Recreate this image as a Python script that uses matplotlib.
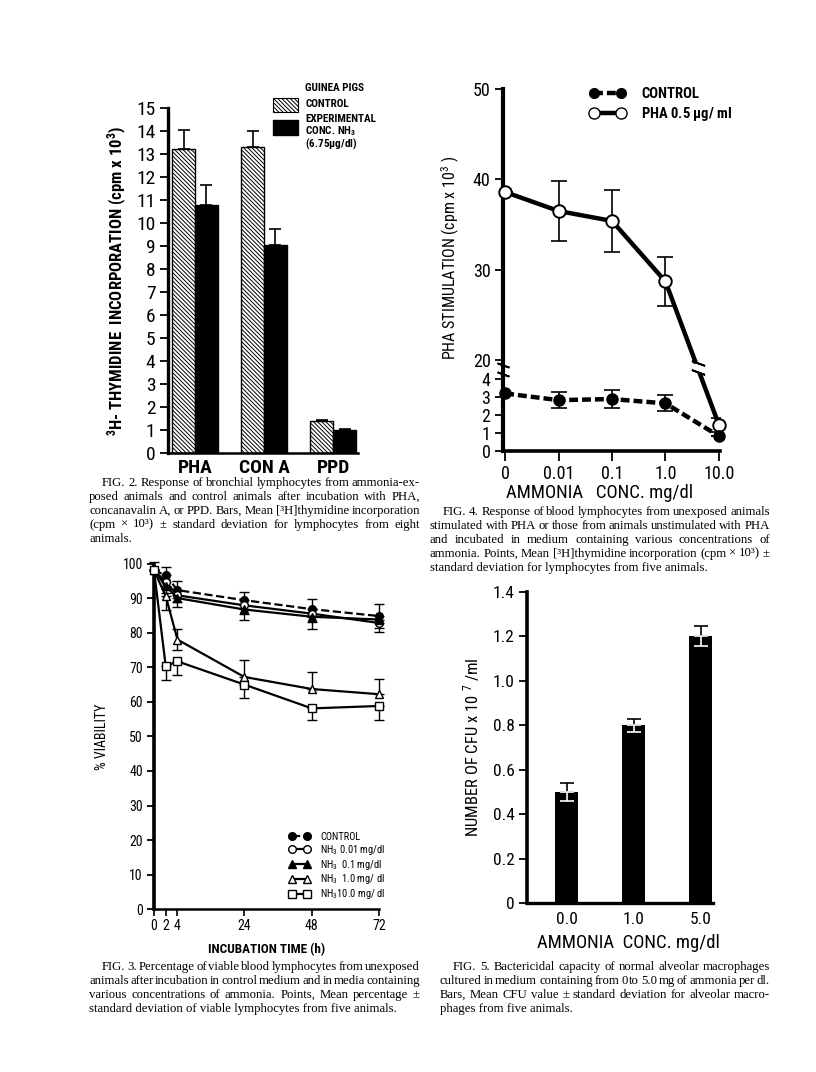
import os
import numpy as np
import matplotlib
matplotlib.use("Agg")
import matplotlib.pyplot as plt
import matplotlib.font_manager as fm
from matplotlib.lines import Line2D
from matplotlib.patches import Rectangle
from matplotlib import transforms

plt.rcParams["mathtext.default"] = "regular"
plt.rcParams["hatch.linewidth"] = 0.7

SERIF = ["Liberation Serif", "DejaVu Serif"]
W, H = 816, 1072

# ---- Fig 2 data
fig2_groups = ["PHA", "CON A", "PPD"]
fig2_control = [13.2, 13.3, 1.4]
fig2_control_sd = [0.85, 0.7, 0.05]
fig2_exp = [10.8, 9.05, 1.0]
fig2_exp_sd = [0.85, 0.7, 0.05]

# ---- Fig 4 data
fig4_conc = ["0", "0.01", "0.1", "1.0", "10.0"]
fig4_control = [3.2, 2.83, 2.89, 2.65, 0.83]
fig4_control_sd = [0.0, 0.45, 0.5, 0.45, 0.0]
fig4_pha = [38.6, 36.5, 35.4, 28.7, 1.45]
fig4_pha_sd = [0.0, 3.3, 3.4, 2.7, 0.4]

# ---- Fig 3 data
fig3_time = [0, 2, 4, 24, 48, 72]
fig3_control = [98.0, 96.6, 92.3, 89.4, 86.8, 84.8]
fig3_control_up = [2.5, 2.5, 2.5, 2.5, 3.0, 3.5]
fig3_nh3_001 = [98.0, 94.7, 90.8, 87.9, 85.5, 82.8]
fig3_nh3_001_dn = [0.0, 2.0, 2.0, 2.5, 2.5, 2.5]
fig3_nh3_01 = [98.0, 93.5, 90.0, 86.7, 84.6, 83.8]
fig3_nh3_01_dn = [0.0, 2.0, 2.5, 3.0, 3.5, 2.5]
fig3_nh3_10 = [98.0, 90.6, 78.0, 67.2, 63.7, 62.2]
fig3_nh3_10_up = [0.0, 0.0, 3.0, 5.0, 5.0, 4.3]
fig3_nh3_10_dn = [0.0, 4.0, 3.0, 0.0, 0.0, 0.0]
fig3_nh3_100 = [98.0, 70.3, 71.7, 65.0, 58.1, 58.8]
fig3_nh3_100_dn = [0.0, 4.0, 4.0, 4.0, 3.5, 4.0]

# ---- Fig 5 data
fig5_conc = ["0.0", "1.0", "5.0"]
fig5_cfu = [0.5, 0.8, 1.2]
fig5_sd = [0.04, 0.03, 0.045]


# pick a condensed sans if one is installed, else plain Liberation Sans a bit smaller
def find_condensed(bold):
    prefs = ["liberation sans narrow", "roboto condensed", "open sans condensed",
             "noto sans condensed", "dejavu sans condensed", "noto sans", "open sans",
             "roboto", "dejavu sans", "lato", "inter"]
    best, best_rank = None, 99
    for f in fm.fontManager.ttflist:
        nm = f.name.lower()
        fn = os.path.basename(f.fname).lower()
        cond = ("narrow" in nm or "condensed" in nm or "condensed" in fn
                or "narrow" in fn or str(f.stretch) in ("condensed", "semi-condensed"))
        if not cond or f.style != "normal" or "extra" in fn or "semi" in fn:
            continue
        w = f.weight if isinstance(f.weight, int) else fm.weight_dict.get(f.weight, 400)
        if (w >= 600) != bold or w > 750 or (not bold and w < 350):
            continue
        rank = next((i for i, p in enumerate(prefs) if nm.startswith(p)), 50)
        if rank < best_rank:
            best, best_rank = f.fname, rank
    return best


REG_PATH = find_condensed(False)
BOLD_PATH = find_condensed(True) or REG_PATH
SCALE = 1.0 if REG_PATH else 0.84


def fp(size, bold=False):
    if REG_PATH:
        return fm.FontProperties(fname=BOLD_PATH if bold else REG_PATH, size=size)
    return fm.FontProperties(family=["Liberation Sans", "DejaVu Sans"],
                             weight="bold" if bold else "normal", size=size * SCALE)


fig = plt.figure(figsize=(W / 100, H / 100), dpi=100)


def axbox(left, right, top, bottom):
    return [left / W, 1 - bottom / H, (right - left) / W, (bottom - top) / H]


def style(ax, lw_left, lw_bottom):
    for s in ["top", "right"]:
        ax.spines[s].set_visible(False)
    ax.spines["left"].set_linewidth(lw_left)
    ax.spines["bottom"].set_linewidth(lw_bottom)
    ax.tick_params(axis="y", direction="out", length=6, width=1.3, pad=3)


def ftext(x, y, s, **kw):
    return fig.text(x / W, 1 - y / H, s, **kw)


# ================= FIG 2 =================
ax2 = fig.add_axes(axbox(168, 358, 108, 453))
style(ax2, 2.4, 1.8)
x = np.arange(len(fig2_groups))
bw = 0.33
HATCH = "\\" * 8
ax2.bar(x - bw / 2, fig2_control, bw, color="white", edgecolor="black",
        hatch=HATCH, linewidth=1.0)
ax2.bar(x + bw / 2, fig2_exp, bw, color="black", edgecolor="black")
ax2.errorbar(x - bw / 2, fig2_control, yerr=[np.zeros(3), fig2_control_sd],
             fmt="none", ecolor="black", elinewidth=1.2, capsize=4.5, capthick=1.2)
ax2.errorbar(x + bw / 2, fig2_exp, yerr=[np.zeros(3), fig2_exp_sd],
             fmt="none", ecolor="black", elinewidth=1.2, capsize=4.5, capthick=1.2)
ax2.set_xlim(-0.39, 2.36)
ax2.set_ylim(0, 15)
ax2.set_yticks(range(0, 16))
ax2.set_yticklabels([str(v) for v in range(0, 16)], fontproperties=fp(14))
ax2.set_xticks(x)
ax2.set_xticklabels(fig2_groups, fontproperties=fp(14, True))
ax2.tick_params(axis="x", length=0, pad=4)
ax2.set_ylabel("$^{3}$H- THYMIDINE  INCORPORATION (cpm x 10$^{3}$)",
               fontproperties=fp(12, True), labelpad=5)
# legend (drawn by hand, as in the original)
fig.add_artist(Rectangle((273 / W, 1 - 112 / H), 25 / W, 14 / H, transform=fig.transFigure,
                         facecolor="white", edgecolor="black", hatch=HATCH, lw=0.8))
fig.add_artist(Rectangle((273 / W, 1 - 135 / H), 25 / W, 15 / H, transform=fig.transFigure,
                         facecolor="black", edgecolor="black"))
for yy, s in [(88, "GUINEA PIGS"), (104, "CONTROL"), (119, "EXPERIMENTAL"),
              (131.5, "CONC. NH$_3$"), (144, "(6.75$\\mu$g/dl)")]:
    ftext(305, yy, s, fontproperties=fp(8, True), va="center", ha="left")

# ================= FIG 4 =================
lo_px, hi_px = 18.0, 9.05
gap_units = 19.0 / lo_px
top4 = 4 + gap_units + 30 * hi_px / lo_px
y_anchor = [0, 4, 20, 50]
v_anchor = [0, 4, 4 + gap_units, top4]


def f4_fwd(y):
    return np.interp(y, y_anchor, v_anchor)


def f4_inv(v):
    return np.interp(v, v_anchor, y_anchor)


ax4 = fig.add_axes(axbox(503, 720, 89, 451))
style(ax4, 3.0, 2.6)
ax4.set_yscale("function", functions=(f4_fwd, f4_inv))
ax4.set_ylim(0, 50)
xc = np.arange(len(fig4_conc))
ax4.set_xlim(-0.04, 4.02)
ax4.errorbar(xc, fig4_pha, yerr=fig4_pha_sd, fmt="none", ecolor="black",
             elinewidth=1.2, capsize=6, capthick=1.2, zorder=2)
ax4.errorbar(xc, fig4_control, yerr=fig4_control_sd, fmt="none", ecolor="black",
             elinewidth=1.2, capsize=6, capthick=1.2, zorder=2)
ax4.plot(xc, fig4_pha, "-", color="black", lw=3.2, marker="o", ms=9,
         mfc="white", mec="black", mew=1.4, clip_on=False, zorder=3)
ax4.plot(xc, fig4_control, "--", color="black", lw=3.2, dashes=(2.0, 0.9),
         marker="o", ms=8, mfc="black", mec="black", clip_on=False, zorder=3)
ax4.set_yticks([0, 1, 2, 3, 4, 20, 30, 40, 50])
ax4.set_yticklabels(["0", "1", "2", "3", "4", "20", "30", "40", "50"],
                    fontproperties=fp(13))
ax4.minorticks_off()
ax4.set_xticks(xc)
ax4.set_xticklabels(fig4_conc, fontproperties=fp(13))
ax4.tick_params(axis="x", direction="out", length=7, width=1.3, pad=3)
ax4.set_ylabel("PHA STIMULATION (cpm x 10$^{3}$ )", fontproperties=fp(11.5))
ax4.yaxis.set_label_coords(-(503 - 462) / 217, (451 - 258) / 362)
ax4.set_xlabel("AMMONIA   CONC. mg/dl", fontproperties=fp(13.5))
ax4.xaxis.set_label_coords((600 - 503) / 217, -0.09)

# axis break marks on y axis and on PHA line
yb_axis = f4_inv(4 + gap_units / 2)
for dy in (-3.0, 3.0):
    off = transforms.offset_copy(ax4.transData, fig=fig, x=0, y=dy, units="points")
    ax4.plot([-0.04], [yb_axis], marker=(2, 2, 70), ms=9, mew=1.3, color="black",
             transform=off, clip_on=False, zorder=5)
v_pha = np.interp(3.6, [3, 4], f4_fwd(np.array(fig4_pha[3:5])))
yb_line = f4_inv(v_pha)
ax4.plot([3.6], [yb_line], marker="s", ms=6, mfc="white", mec="white", zorder=4)
for dy in (-3.2, 3.2):
    off = transforms.offset_copy(ax4.transData, fig=fig, x=0, y=dy, units="points")
    ax4.plot([3.6], [yb_line], marker=(2, 2, 70), ms=10, mew=1.3, color="black",
             transform=off, zorder=5)
ax4.legend(handles=[Line2D([], [], ls="--", dashes=(2.0, 0.9), lw=3.2, color="black",
                           marker="o", ms=7, mfc="black"),
                    Line2D([], [], ls="-", lw=3.2, color="black", marker="o", ms=8,
                           mfc="white", mec="black")],
           labels=["CONTROL", "PHA 0.5 $\\mu$g/ ml"],
           prop=fp(10.5, True), frameon=False, loc="upper left",
           bbox_to_anchor=(590 / W, 1 - 87 / H), bbox_transform=fig.transFigure,
           handlelength=2.4, handletextpad=1.1, labelspacing=0.3, borderpad=0,
           borderaxespad=0, numpoints=2)

# ================= FIG 3 =================
t_anchor = [0, 2, 4, 24, 48, 72]
p_anchor = [0, 11.7, 23.4, 90.0, 157.4, 224.4]


def f3_fwd(t):
    return np.interp(t, t_anchor, p_anchor)


def f3_inv(p):
    return np.interp(p, p_anchor, t_anchor)


ax3 = fig.add_axes(axbox(154, 379, 563.5, 909.3))
style(ax3, 2.6, 1.8)
ax3.set_xscale("function", functions=(f3_fwd, f3_inv))
ax3.set_xlim(0, 72)
ax3.set_ylim(0, 100)
z = np.zeros(len(fig3_time))
eb = dict(fmt="none", ecolor="black", elinewidth=1.0, capsize=3.5, capthick=1.0,
          clip_on=False)
ax3.errorbar(fig3_time, fig3_control, yerr=[z, fig3_control_up], **eb)
ax3.errorbar(fig3_time, fig3_nh3_001, yerr=[fig3_nh3_001_dn, z], **eb)
ax3.errorbar(fig3_time, fig3_nh3_01, yerr=[fig3_nh3_01_dn, z], **eb)
ax3.errorbar(fig3_time, fig3_nh3_10, yerr=[fig3_nh3_10_dn, fig3_nh3_10_up], **eb)
ax3.errorbar(fig3_time, fig3_nh3_100, yerr=[fig3_nh3_100_dn, z], **eb)
lk = dict(color="black", lw=1.6, clip_on=False, zorder=3)
ax3.plot(fig3_time, fig3_control, "--", marker="o", ms=5.5, mfc="black",
         label="CONTROL", **lk)
ax3.plot(fig3_time, fig3_nh3_001, "-", marker="o", ms=5.5, mfc="white",
         label="NH$_3$ 0.01 mg/dl", **lk)
ax3.plot(fig3_time, fig3_nh3_01, "-", marker="^", ms=6, mfc="black",
         label="NH$_3$  0.1 mg/dl", **lk)
ax3.plot(fig3_time, fig3_nh3_10, "-", marker="^", ms=6, mfc="white",
         label="NH$_3$  1.0 mg/ dl", **lk)
ax3.plot(fig3_time, fig3_nh3_100, "-", marker="s", ms=5.5, mfc="white",
         label="NH$_3$10.0 mg/ dl", **lk)
ax3.set_yticks(range(0, 101, 10))
ax3.set_yticklabels([str(v) for v in range(0, 101, 10)], fontproperties=fp(10))
ax3.set_xticks(fig3_time)
ax3.set_xticklabels([str(v) for v in fig3_time], fontproperties=fp(10))
ax3.tick_params(axis="x", direction="out", length=5, width=1.2, pad=2)
ax3.tick_params(axis="y", length=5)
ax3.set_ylabel("% VIABILITY", fontproperties=fp(10), labelpad=10)
ax3.set_xlabel("INCUBATION TIME (h)", fontproperties=fp(9.5, True), labelpad=7)
ax3.legend(prop=fp(7.5), frameon=False, loc="upper left",
           bbox_to_anchor=(289 / W, 1 - 832 / H), bbox_transform=fig.transFigure,
           handlelength=2.0, handletextpad=1.0, labelspacing=0.08, borderpad=0,
           borderaxespad=0, numpoints=2)

# ================= FIG 5 =================
ax5 = fig.add_axes(axbox(527, 713, 591.7, 903.3))
style(ax5, 2.6, 2.4)
x5 = np.arange(len(fig5_conc))
bw5 = 0.34
ax5.bar(x5, fig5_cfu, bw5, color="black")
ax5.errorbar(x5, fig5_cfu, yerr=[np.zeros(3), fig5_sd], fmt="none", ecolor="black",
             elinewidth=1.2, capsize=5, capthick=1.2)
ax5.errorbar(x5, fig5_cfu, yerr=[fig5_sd, np.zeros(3)], fmt="none", ecolor="white",
             elinewidth=1.2, capsize=5, capthick=1.2)
ax5.set_xlim(-0.59, 2.18)
ax5.set_ylim(0, 1.4)
yt5 = [0, 0.2, 0.4, 0.6, 0.8, 1.0, 1.2, 1.4]
ax5.set_yticks(yt5)
ax5.set_yticklabels(["0", "0.2", "0.4", "0.6", "0.8", "1.0", "1.2", "1.4"],
                    fontproperties=fp(12.5))
ax5.set_xticks(x5)
ax5.set_xticklabels(fig5_conc, fontproperties=fp(12.5))
ax5.tick_params(axis="x", length=0, pad=6)
ax5.set_ylabel("NUMBER OF CFU x 10$^{\\ 7}$ /ml", fontproperties=fp(12),
               labelpad=8)
ax5.set_xlabel("AMMONIA  CONC. mg/dl", fontproperties=fp(13.5), labelpad=5)
ax5.xaxis.set_label_coords((628 - 527) / 186, -0.1)

# ================= captions =================
renderer = fig.canvas.get_renderer()


def caption(lines, x0, x1, y0, indent=13, dy=13.9, size=9.2):
    for i, line in enumerate(lines):
        y = y0 + i * dy
        start = x0 + (indent if i == 0 else 0)
        if i == len(lines) - 1:
            ftext(start, y, line, family=SERIF, fontsize=size, va="center")
            continue
        words = line.split(" ")
        objs = [fig.text(0, 1 - y / H, w, family=SERIF, fontsize=size, va="center")
                for w in words]
        widths = [o.get_window_extent(renderer).width for o in objs]
        gap = (x1 - start - sum(widths)) / max(len(words) - 1, 1)
        pos = start
        for o, w in zip(objs, widths):
            o.set_x(pos / W)
            pos += w + gap


caption(["FIG. 2. Response of bronchial lymphocytes from ammonia-ex-",
         "posed animals and control animals after incubation with PHA,",
         "concanavalin A, or PPD. Bars, Mean [³H]thymidine incorporation",
         "(cpm × 10³) ± standard deviation for lymphocytes from eight",
         "animals."], 89, 420, 483)
caption(["FIG. 4. Response of blood lymphocytes from unexposed animals",
         "stimulated with PHA or those from animals unstimulated with PHA",
         "and incubated in medium containing various concentrations of",
         "ammonia. Points, Mean [³H]thymidine incorporation (cpm × 10³) ±",
         "standard deviation for lymphocytes from five animals."], 430, 770, 512)
caption(["FIG. 3. Percentage of viable blood lymphocytes from unexposed",
         "animals after incubation in control medium and in media containing",
         "various concentrations of ammonia. Points, Mean percentage ±",
         "standard deviation of viable lymphocytes from five animals."], 89, 420, 967)
caption(["FIG. 5. Bactericidal capacity of normal alveolar macrophages",
         "cultured in medium containing from 0 to 5.0 mg of ammonia per dl.",
         "Bars, Mean CFU value ± standard deviation for alveolar macro-",
         "phages from five animals."], 440, 770, 967)

fig.savefig("out.png", dpi=100)
